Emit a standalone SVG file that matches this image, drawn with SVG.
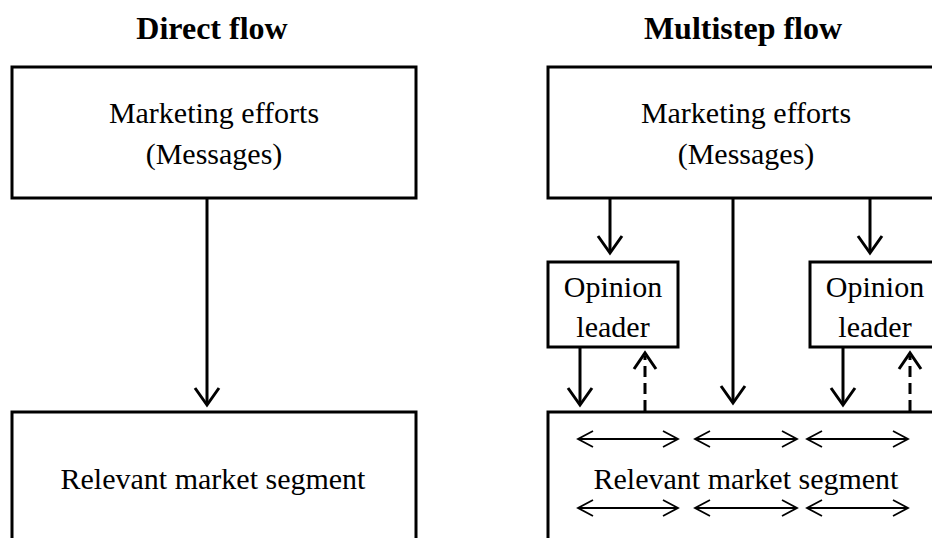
<svg xmlns="http://www.w3.org/2000/svg" width="932" height="538" viewBox="0 0 932 538">
  <style>
    .box { fill: #fff; stroke: #000; stroke-width: 3; }
    .title { font-family: "Liberation Serif", "Times New Roman", serif; font-size: 32px; font-weight: bold; text-anchor: middle; fill: #000; }
    .lbl { font-family: "Liberation Serif", "Times New Roman", serif; font-size: 30px; text-anchor: middle; fill: #000; }
    .flow { stroke: #000; stroke-width: 3; fill: none; }
    .dash { stroke-dasharray: 11 6; }
    .head { stroke: #000; stroke-width: 3; fill: none; stroke-linejoin: miter; }
    .peer { stroke: #000; stroke-width: 1.8; fill: none; }
  </style>
  <rect width="932" height="538" fill="#fff"/>

  <!-- column titles -->
  <text class="title" x="212" y="39">Direct flow</text>
  <text class="title" x="743" y="39">Multistep flow</text>

  <!-- direct flow -->
  <g id="direct-source">
    <rect class="box" x="12" y="67" width="404" height="131"/>
    <text class="lbl" x="214" y="123">Marketing efforts</text>
    <text class="lbl" x="214" y="164">(Messages)</text>
  </g>
  <g id="direct-target">
    <rect class="box" x="12" y="412" width="404" height="140"/>
    <text class="lbl" x="213" y="489">Relevant market segment</text>
  </g>

  <!-- multistep flow -->
  <g id="multi-source">
    <rect class="box" x="548" y="67" width="400" height="131"/>
    <text class="lbl" x="746" y="123">Marketing efforts</text>
    <text class="lbl" x="746" y="164">(Messages)</text>
  </g>
  <g id="leader-left">
    <rect class="box" x="548" y="262" width="130" height="85"/>
    <text class="lbl" x="613" y="297">Opinion</text>
    <text class="lbl" x="613" y="337">leader</text>
  </g>
  <g id="leader-right">
    <rect class="box" x="810" y="262" width="130" height="85"/>
    <text class="lbl" x="875" y="297">Opinion</text>
    <text class="lbl" x="875" y="337">leader</text>
  </g>
  <g id="multi-target">
    <rect class="box" x="548" y="412" width="400" height="140"/>
    <text class="lbl" x="746" y="489">Relevant market segment</text>
  </g>

  <g id="connectors">
    <!-- direct flow arrow -->
    <line class="flow" x1="207" y1="198" x2="207" y2="403"/>
    <polyline class="head" points="195,388 207,405 219,388"/>

    <!-- source to leaders -->
    <line class="flow" x1="610" y1="198" x2="610" y2="251"/>
    <polyline class="head" points="598,236 610,253 622,236"/>
    <line class="flow" x1="870" y1="198" x2="870" y2="251"/>
    <polyline class="head" points="858,236 870,253 882,236"/>

    <!-- source straight to segment -->
    <line class="flow" x1="733" y1="198" x2="733" y2="401"/>
    <polyline class="head" points="721,386 733,403 745,386"/>

    <!-- leaders to segment -->
    <line class="flow" x1="580" y1="347" x2="580" y2="403"/>
    <polyline class="head" points="568,388 580,405 592,388"/>
    <line class="flow" x1="843" y1="347" x2="843" y2="403"/>
    <polyline class="head" points="831,388 843,405 855,388"/>

    <!-- feedback from segment to leaders -->
    <line class="flow dash" x1="645" y1="411" x2="645" y2="356"/>
    <polyline class="head" points="634,369 645,353 656,369"/>
    <line class="flow dash" x1="910" y1="411" x2="910" y2="356"/>
    <polyline class="head" points="899,369 910,353 921,369"/>

    <!-- interaction within the segment -->
    <g class="peer">
      <line x1="578" y1="439" x2="678" y2="439"/>
      <polyline points="593,431 578,439 593,447"/>
      <polyline points="663,431 678,439 663,447"/>
      <line x1="695" y1="439" x2="797" y2="439"/>
      <polyline points="710,431 695,439 710,447"/>
      <polyline points="782,431 797,439 782,447"/>
      <line x1="807" y1="439" x2="908" y2="439"/>
      <polyline points="822,431 807,439 822,447"/>
      <polyline points="893,431 908,439 893,447"/>

      <line x1="578" y1="508" x2="678" y2="508"/>
      <polyline points="593,500 578,508 593,516"/>
      <polyline points="663,500 678,508 663,516"/>
      <line x1="695" y1="508" x2="797" y2="508"/>
      <polyline points="710,500 695,508 710,516"/>
      <polyline points="782,500 797,508 782,516"/>
      <line x1="807" y1="508" x2="908" y2="508"/>
      <polyline points="822,500 807,508 822,516"/>
      <polyline points="893,500 908,508 893,516"/>
    </g>
  </g>
</svg>
